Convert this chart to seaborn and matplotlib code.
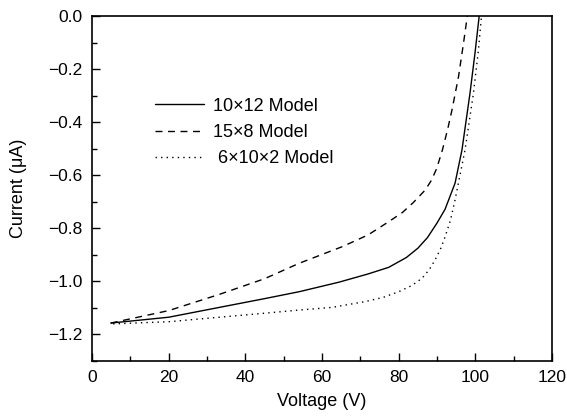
import numpy as np
import pandas as pd
import matplotlib
matplotlib.use("Agg")
import matplotlib.pyplot as plt
import seaborn as sns
from matplotlib.ticker import MultipleLocator

## I-V curves
v_10x12 = [4.9, 20, 33.2, 45, 54, 64.4, 72, 77.4, 82, 85, 87.5, 90, 92.1, 94.7, 96.5, 98.6, 99.9, 101.0]
i_10x12 = [-1.157, -1.135, -1.098, -1.065, -1.039, -1.003, -0.972, -0.947, -0.91, -0.875, -0.835, -0.78, -0.728, -0.63, -0.505, -0.291, -0.14, 0.0]

v_15x8 = [4.9, 20, 33.2, 45, 54, 65.3, 72, 77.4, 81, 83.8, 86.9, 88.5, 89.9, 91.4, 92.8, 93.9, 95.6, 96.9, 97.9]
i_15x8 = [-1.157, -1.11, -1.049, -0.99, -0.932, -0.869, -0.825, -0.775, -0.74, -0.703, -0.656, -0.62, -0.575, -0.505, -0.425, -0.354, -0.229, -0.103, 0.0]

v_6x10x2 = [5.5, 20, 33.2, 45, 54, 62.6, 71.3, 76, 80, 83.5, 86.1, 88, 89.5, 91, 92.1, 93.5, 94.7, 97.3, 99.5, 100.8, 101.6]
i_6x10x2 = [-1.16, -1.152, -1.135, -1.12, -1.108, -1.098, -1.076, -1.06, -1.039, -1.015, -0.988, -0.955, -0.919, -0.875, -0.832, -0.77, -0.693, -0.505, -0.291, -0.128, 0.0]

labels = ["10\u00d712 Model", "15\u00d78 Model", " 6\u00d710\u00d72 Model"]

sns.set_style("ticks")
plt.rcParams["font.family"] = ["Liberation Sans", "DejaVu Sans"]
plt.rcParams["text.color"] = "black"
plt.rcParams["axes.labelcolor"] = "black"
plt.rcParams["xtick.color"] = "black"
plt.rcParams["ytick.color"] = "black"

fig = plt.figure(figsize=(5.67, 4.19), dpi=100)
ax = fig.add_axes([0.1623, 0.1384, 0.8113, 0.8234])

df1 = pd.DataFrame({"V": v_10x12, "I": i_10x12})
df2 = pd.DataFrame({"V": v_15x8, "I": i_15x8})
df3 = pd.DataFrame({"V": v_6x10x2, "I": i_6x10x2})

sns.lineplot(data=df1, x="V", y="I", ax=ax, color="black", lw=1.0, label=labels[0], sort=False)
sns.lineplot(data=df2, x="V", y="I", ax=ax, color="black", lw=1.0, label=labels[1], sort=False,
             linestyle=(0, (5, 4)))
sns.lineplot(data=df3, x="V", y="I", ax=ax, color="black", lw=1.0, label=labels[2], sort=False,
             linestyle=(0, (1, 3)))

ax.set_xlim(0, 120)
ax.set_ylim(-1.3, 0.0)
ax.xaxis.set_major_locator(MultipleLocator(20))
ax.xaxis.set_minor_locator(MultipleLocator(10))
ax.yaxis.set_major_locator(MultipleLocator(0.2))
ax.yaxis.set_minor_locator(MultipleLocator(0.1))
ax.yaxis.set_major_formatter(plt.FuncFormatter(
    lambda v, p: ("%.1f" % v).replace("-", "\u2212") if abs(v) > 1e-9 else "0.0"))
ax.tick_params(which="major", direction="in", length=6, width=1, labelsize=12.5,
               top=False, right=False, colors="black")
ax.tick_params(axis="y", which="major", pad=7)
ax.tick_params(axis="x", which="major", pad=6.5)
ax.tick_params(which="minor", direction="in", length=3.5, width=1, top=False, right=False, colors="black")
for s in ax.spines.values():
    s.set_linewidth(1.2)
    s.set_color("black")

ax.set_xlabel("Voltage (V)", fontsize=13, labelpad=6, color="black")
ax.set_ylabel("Current (\u03bcA)", fontsize=13, labelpad=15, color="black")

leg = ax.legend(loc="upper left", bbox_to_anchor=(0.102, 0.81), frameon=False, fontsize=13,
                handlelength=2.7, handletextpad=0.5, labelspacing=0.5)
for t in leg.get_texts():
    t.set_color("black")

plt.savefig("out.png", dpi=100)
